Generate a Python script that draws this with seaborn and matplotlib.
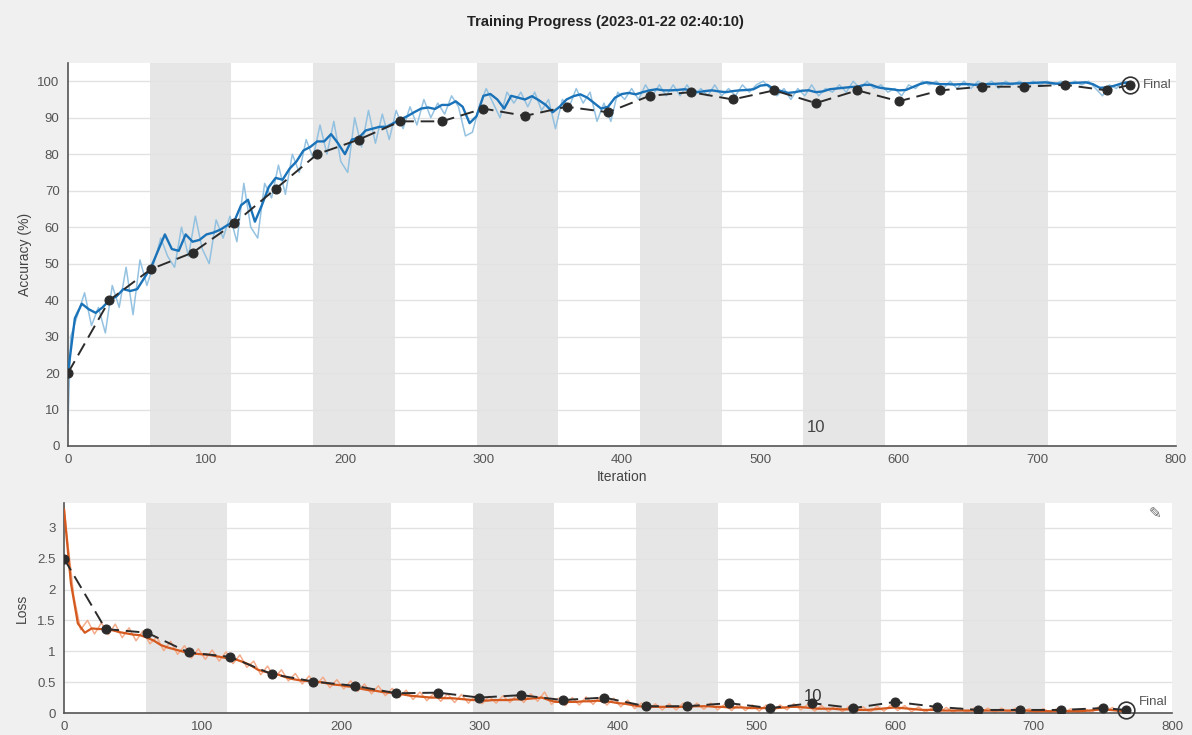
import numpy as np
import pandas as pd
import matplotlib
matplotlib.use("Agg")
import matplotlib.pyplot as plt
import seaborn as sns

sns.set_theme(style="white")
plt.rcParams['font.family'] = ['Liberation Sans', 'DejaVu Sans']

# ---------------------------------------------------------------- data
epoch_len = 59          # iterations per epoch
n_epochs = 13
final_iter = 767

# smoothed training accuracy, every 5 iterations (0..765) plus the final iteration
acc_smooth = [
    20, 35, 39, 37.5, 36.5, 38, 40, 41, 43, 42.5, 43, 46, 49, 53.5, 58, 54, 53.5, 58, 56, 56.5,
    58, 58.5, 59.3, 60.5, 61.5, 66, 67.5, 61.5, 66, 71, 73.5, 73, 76, 78, 81, 82, 83.5, 83.5, 85.5, 83,
    80, 84, 84.5, 86.5, 87, 87.5, 87.5, 88.5, 89.5, 90.4, 91.5, 92.5, 92.8, 92.4, 93.5, 93.5, 94.5, 93, 88.5, 90.4,
    96, 96.5, 95, 92.5, 96, 95.5, 95, 95.9, 94.8, 93.5, 91.5, 93, 95, 95.9, 96.4, 95.5, 94, 92.5, 93, 95.5,
    96.5, 96.8, 96.4, 97, 97.5, 97.8, 97.5, 97.5, 97.6, 97.8, 97.5, 97, 97.3, 97.5, 97.2, 97, 97.3, 97.5, 97.6, 97.8,
    98.8, 99, 97.8, 97.3, 96.8, 97, 97.4, 97.5, 97, 97.2, 97.8, 98, 98.2, 98.4, 98.5, 99, 99, 98.3, 98, 97.8,
    97.5, 97.6, 98.4, 99.2, 99.7, 99.4, 99.2, 99.2, 99.1, 99.2, 99.2, 99, 99.2, 99.2, 99.3, 99.4, 99.3, 99.4, 99.4, 99.5,
    99.6, 99.7, 99.5, 99.3, 99.4, 99.5, 99.6, 99.7, 99.2, 98.2, 98.3, 98.7, 99.3, 99.7, 99.5,
]

# raw per-iteration accuracy, sampled at 0, 2, 7, 12, ... 762 and the final iteration
acc_raw = [
    6, 30, 36, 42, 33, 38, 31, 44, 38, 49, 36, 51, 44, 50, 57, 52, 49, 60, 52, 63,
    54, 50, 62, 57, 63, 56, 72, 60, 57, 72, 68, 77, 69, 80, 75, 84, 79, 88, 80, 89,
    78, 75, 90, 82, 92, 83, 91, 84, 92, 87, 93, 88, 95, 90, 94, 91, 96, 93, 85, 86,
    93, 98, 94, 90, 97, 94, 97, 93, 97, 92, 95, 87, 95, 93, 98, 94, 97, 89, 94, 89,
    97, 95, 98, 95, 99, 96, 99, 96, 99, 96, 99, 96, 98, 96, 99, 96, 98, 96, 99, 97,
    99, 100, 98, 96, 98, 95, 98, 96, 99, 96, 98, 97, 99, 97, 100, 98, 100, 98, 99, 97,
    98, 96, 99, 98, 100, 99, 100, 98, 100, 98, 100, 98, 100, 99, 100, 98, 100, 99, 100, 99,
    100, 99, 100, 99, 100, 99, 100, 99, 100, 98, 96, 99, 98, 100, 99,
]

# smoothed training loss, same sampling as acc_smooth
loss_smooth = [
    3.3, 2.1, 1.45, 1.3, 1.37, 1.36, 1.36, 1.34, 1.31, 1.29, 1.27, 1.26, 1.22, 1.17, 1.1, 1.06, 1.03, 1.0, 0.97, 0.96,
    0.95, 0.94, 0.92, 0.9, 0.88, 0.86, 0.82, 0.77, 0.7, 0.67, 0.64, 0.62, 0.58, 0.55, 0.53, 0.52, 0.51, 0.5, 0.48, 0.46,
    0.45, 0.43, 0.42, 0.39, 0.37, 0.36, 0.34, 0.33, 0.32, 0.3, 0.28, 0.27, 0.26, 0.25, 0.25, 0.24, 0.24, 0.23, 0.22, 0.21,
    0.21, 0.2, 0.21, 0.21, 0.21, 0.22, 0.22, 0.23, 0.24, 0.25, 0.21, 0.18, 0.18, 0.18, 0.18, 0.19, 0.19, 0.2, 0.19, 0.18,
    0.16, 0.15, 0.13, 0.11, 0.1, 0.1, 0.1, 0.1, 0.1, 0.1, 0.1, 0.11, 0.11, 0.11, 0.1, 0.1, 0.09, 0.09, 0.09, 0.08,
    0.08, 0.08, 0.08, 0.08, 0.09, 0.1, 0.1, 0.09, 0.08, 0.07, 0.07, 0.07, 0.06, 0.06, 0.06, 0.05, 0.05, 0.06, 0.07, 0.08,
    0.09, 0.08, 0.07, 0.06, 0.05, 0.05, 0.05, 0.04, 0.04, 0.04, 0.04, 0.04, 0.04, 0.04, 0.04, 0.04, 0.04, 0.04, 0.04, 0.04,
    0.03, 0.03, 0.03, 0.03, 0.03, 0.03, 0.03, 0.03, 0.04, 0.05, 0.06, 0.05, 0.04, 0.03, 0.03,
]

# raw per-iteration loss, same sampling as acc_raw
loss_raw = [
    3.35, 2.9, 1.9, 1.35, 1.5, 1.28, 1.46, 1.27, 1.44, 1.22, 1.38, 1.17, 1.33, 1.12, 1.23, 1.01, 1.16, 0.95, 1.09, 0.89,
    1.04, 0.87, 1.02, 0.84, 0.99, 0.8, 0.94, 0.74, 0.84, 0.62, 0.76, 0.57, 0.7, 0.52, 0.64, 0.47, 0.6, 0.45, 0.58, 0.41,
    0.54, 0.39, 0.52, 0.35, 0.47, 0.31, 0.44, 0.28, 0.4, 0.25, 0.37, 0.22, 0.34, 0.2, 0.32, 0.19, 0.31, 0.17, 0.3, 0.16,
    0.28, 0.15, 0.27, 0.16, 0.28, 0.17, 0.29, 0.17, 0.31, 0.19, 0.34, 0.14, 0.24, 0.12, 0.25, 0.13, 0.26, 0.14, 0.26, 0.13,
    0.24, 0.1, 0.21, 0.07, 0.16, 0.05, 0.15, 0.05, 0.15, 0.05, 0.16, 0.06, 0.16, 0.06, 0.16, 0.05, 0.14, 0.04, 0.14, 0.04,
    0.13, 0.03, 0.13, 0.03, 0.13, 0.05, 0.15, 0.05, 0.14, 0.03, 0.12, 0.02, 0.12, 0.02, 0.11, 0.01, 0.1, 0.01, 0.11, 0.03,
    0.13, 0.04, 0.12, 0.02, 0.1, 0.01, 0.09, 0.01, 0.09, 0.01, 0.08, 0.01, 0.08, 0.01, 0.08, 0.01, 0.08, 0.01, 0.08, 0.01,
    0.07, 0.01, 0.07, 0.01, 0.07, 0.01, 0.07, 0.01, 0.07, 0.01, 0.1, 0.03, 0.09, 0.01, 0.03,
]

# validation checkpoints every 30 iterations, plus the final one
val_acc = [20, 40, 48.5, 53, 61, 70.5, 80, 84, 89, 89, 92.5, 90.5, 93, 91.5, 96, 97, 95, 97.5,
           94, 97.5, 94.5, 97.5, 98.5, 98.5, 99, 97.5, 99]
val_loss = [2.5, 1.36, 1.3, 0.98, 0.91, 0.63, 0.51, 0.44, 0.32, 0.33, 0.25, 0.29, 0.21, 0.25,
            0.11, 0.11, 0.16, 0.08, 0.16, 0.08, 0.18, 0.1, 0.05, 0.05, 0.05, 0.08, 0.05]

x_ticks = [0, 100, 200, 300, 400, 500, 600, 700, 800]
acc_ticks = [0, 10, 20, 30, 40, 50, 60, 70, 80, 90, 100]
loss_ticks = [0, 0.5, 1, 1.5, 2, 2.5, 3]
loss_tick_labels = ["0", "0.5", "1", "1.5", "2", "2.5", "3"]

title = "Training Progress (2023-01-22 02:40:10)"

# iteration positions of the samples
smooth_iter = np.r_[np.arange(0, 766, 5), final_iter]
raw_iter = np.r_[0, np.arange(2, 763, 5), final_iter]
val_iter = np.r_[np.arange(0, 751, 30), final_iter]
assert len(acc_smooth) == len(smooth_iter) == len(loss_smooth)
assert len(acc_raw) == len(raw_iter) == len(loss_raw)
assert len(val_acc) == len(val_iter) == len(val_loss)

train = pd.DataFrame({"iter": smooth_iter, "acc": acc_smooth, "loss": loss_smooth})
raw = pd.DataFrame({"iter": raw_iter, "acc": acc_raw, "loss": loss_raw})
val = pd.DataFrame({"iter": val_iter, "acc": val_acc, "loss": val_loss})

# ---------------------------------------------------------------- figure
fig = plt.figure(figsize=(11.92, 7.35), dpi=100, facecolor="#f0f0f0")
ax1 = fig.add_axes([0.0570, 0.3932, 0.9295, 0.5211])
ax2 = fig.add_axes([0.0537, 0.0299, 0.9295, 0.2857])

tick_col = "#555555"


def style_axes(ax, ylim, yticks, ylabels=None):
    ax.set_facecolor("white")
    ax.set_xlim(0, 800)
    ax.set_ylim(*ylim)
    ax.set_xticks(x_ticks)
    ax.set_yticks(yticks)
    if ylabels is not None:
        ax.set_yticklabels(ylabels)
    ax.set_axisbelow(True)
    ax.yaxis.grid(True, color="#e2e2e2", lw=1.0)
    ax.xaxis.grid(False)
    for s in ("top", "right"):
        ax.spines[s].set_visible(False)
    for s in ("left", "bottom"):
        ax.spines[s].set_color("#555555")
        ax.spines[s].set_linewidth(1.2)
    ax.tick_params(axis="both", direction="in", length=11, width=1.1,
                   colors="#444444", labelcolor=tick_col, labelsize=9.5, pad=6)
    # alternating epoch shading
    for k in range(1, n_epochs, 2):
        ax.axvspan(k * epoch_len, (k + 1) * epoch_len, color="#e6e6e6", lw=0, zorder=0)


style_axes(ax1, (0, 105), acc_ticks)
style_axes(ax2, (0, 3.4), loss_ticks, loss_tick_labels)

# accuracy panel
sns.lineplot(data=raw, x="iter", y="acc", ax=ax1, color="#8fbfe0", lw=1.1,
             alpha=0.95, estimator=None, sort=False, zorder=2)
sns.lineplot(data=train, x="iter", y="acc", ax=ax1, color="#1a72b8", lw=1.7,
             estimator=None, sort=False, zorder=3)
sns.lineplot(data=val, x="iter", y="acc", ax=ax1, color="#2b2b2b", lw=1.4,
             linestyle=(0, (7, 3.5)), marker="o", markersize=6.5,
             markeredgecolor="#2b2b2b", estimator=None, sort=False, zorder=4)

# loss panel
sns.lineplot(data=raw, x="iter", y="loss", ax=ax2, color="#f4a784", lw=1.1,
             alpha=0.95, estimator=None, sort=False, zorder=2)
sns.lineplot(data=train, x="iter", y="loss", ax=ax2, color="#d4591f", lw=1.6,
             estimator=None, sort=False, zorder=3)
sns.lineplot(data=val, x="iter", y="loss", ax=ax2, color="#2b2b2b", lw=1.4,
             linestyle=(0, (7, 3.5)), marker="o", markersize=6.5,
             markeredgecolor="#2b2b2b", estimator=None, sort=False, zorder=4)

# final checkpoint rings and labels
for ax, col, dy in ((ax1, "acc", 0.0), (ax2, "loss", 0.13)):
    fx = val["iter"].iloc[-1]
    fy = val[col].iloc[-1]
    ax.plot([fx], [fy], marker="o", ms=12, mfc="none", mec="#333333", mew=1.2,
            zorder=5, clip_on=False)
    ax.text(fx + 9, fy + dy, "Final", fontsize=9.5, color="#555555",
            va="center", ha="left", zorder=6)

for ax in (ax1, ax2):
    ax.set_xlabel("")
    ax.set_ylabel("")

ax1.set_xlabel("Iteration", fontsize=10, color="#444444", labelpad=3)
ax1.set_ylabel("Accuracy (%)", fontsize=10, color="#444444", labelpad=4)
ax2.set_ylabel("Loss", fontsize=10, color="#444444", labelpad=6)

# epoch counter labels
ax1.text(540, 5, "10", fontsize=12, color="#444444", ha="center", va="center")
ax2.text(541, 0.27, "10", fontsize=12, color="#333333", ha="center", va="center")

# edit icon in the loss panel
ax2.text(0.985, 0.95, "\u270e", transform=ax2.transAxes, fontsize=11,
         color="#666666", ha="center", va="center", family=["DejaVu Sans"])

fig.text(0.508, 0.970, title, fontsize=10.5, fontweight="bold",
         color="#222222", ha="center", va="center")

fig.savefig("out.png", dpi=100, facecolor=fig.get_facecolor())
